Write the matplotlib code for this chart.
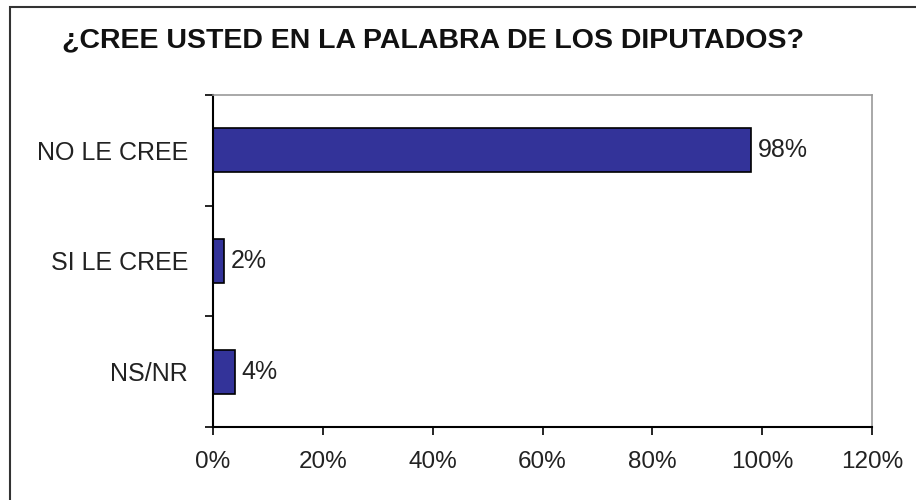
import matplotlib.pyplot as plt
from matplotlib.patches import Rectangle

plt.rcParams['font.family'] = ['Liberation Sans', 'DejaVu Sans']

# data
categories = ["NO LE CREE", "SI LE CREE", "NS/NR"]
values = [98, 2, 4]
xticks = [0, 20, 40, 60, 80, 100, 120]
title = "¿CREE USTED EN LA PALABRA DE LOS DIPUTADOS?"

fig = plt.figure(figsize=(9.16, 5.0), dpi=100)
ax = fig.add_axes([0.2325, 0.146, 0.952 - 0.2325, 0.81 - 0.146])

ypos = list(range(len(categories)))
ax.barh(ypos, values, height=0.4, color="#333399", edgecolor="black", linewidth=1.2)
for y, v in zip(ypos, values):
    ax.text(v + 1.2, y, f"{v}%", va="center", ha="left", fontsize=18, color="#222222")

ax.set_xlim(0, 120)
ax.set_ylim(len(categories) - 0.5, -0.5)
ax.set_xticks(xticks)
ax.set_xticklabels([f"{t}%" for t in xticks], fontsize=17.5, color="#222222")
ax.set_yticks(ypos)
ax.set_yticklabels(categories, fontsize=18, color="#222222")
# ticks on the category boundaries, labels in the middle
ax.set_yticks([i - 0.5 for i in range(len(categories) + 1)], minor=True)
ax.tick_params(axis="y", which="major", length=0, pad=18)
ax.tick_params(axis="y", which="minor", length=6, width=1.2, direction="out")
ax.tick_params(axis="x", length=6, width=1.2, direction="out", pad=11)

for s in ["top", "right"]:
    ax.spines[s].set_color("#999999")
    ax.spines[s].set_linewidth(1.2)
for s in ["left", "bottom"]:
    ax.spines[s].set_color("black")
    ax.spines[s].set_linewidth(1.5)

fig.text(0.473, 0.92, title, ha="center", va="center", fontsize=20.5,
         fontweight="bold", color="#111111")

# outer frame (left/top visible)
fig.patches.append(Rectangle((10 / 916, -0.1), 1.2, 1.1 - 7 / 500, transform=fig.transFigure,
                             fill=False, edgecolor="#333333", linewidth=1.5))

fig.savefig("out.png", dpi=100)
